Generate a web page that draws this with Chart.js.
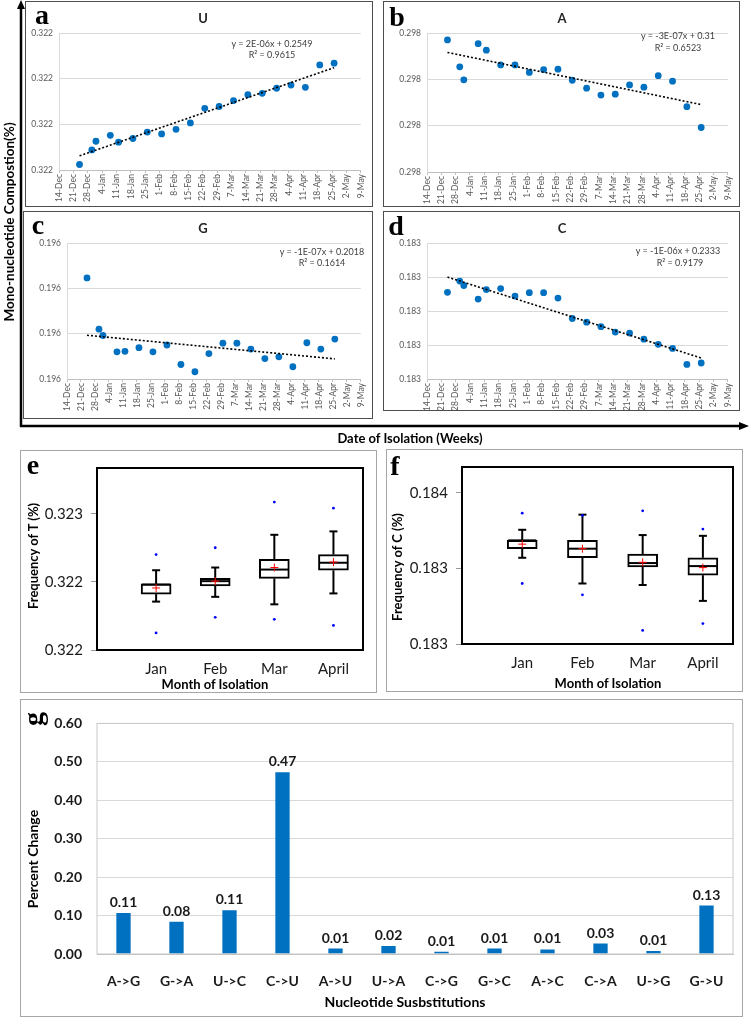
<!DOCTYPE html>
<html>
<head>
<meta charset="utf-8">
<script src="https://cdn.jsdelivr.net/npm/chart.js@4.4.1/dist/chart.umd.min.js"></script>
<style>
  body { margin: 0; background: #fff; width: 749px; height: 1021px; position: relative; overflow: hidden; font-family: Lato, "Open Sans", sans-serif; color: #1a1a1a; }
  .frame { position: absolute; box-sizing: border-box; }
  .dark { border: 1.5px solid #4d4d4d; }
  .light { border: 1.5px solid #a6a6a6; }
  .box { position: absolute; }
  .t { position: absolute; transform: translate(-50%, -50%); white-space: nowrap; line-height: 1; }
  .r { transform: translate(-50%, -50%) rotate(-90deg); }
  .letter { font-family: "Liberation Serif", serif; font-weight: bold; font-size: 28px; color: #000; }
  .ttl { font-weight: bold; font-size: 13px; color: #262626; }
  .eq { font-size: 9px; color: #404040; }
  .ax { font-weight: bold; font-size: 13px; color: #000; }
</style>
</head>
<body>

<svg width="749" height="1021" style="position:absolute;left:0;top:0">
  <line x1="21" y1="427" x2="21" y2="7" stroke="#000" stroke-width="2.5"/>
  <polygon points="21,0 17,9 25,9" fill="#000"/>
  <line x1="20" y1="426" x2="740" y2="426" stroke="#000" stroke-width="2.5"/>
  <polygon points="749,426 739,422 739,430" fill="#000"/>
</svg>

<div class="frame dark" style="left:25px;top:1px;width:348px;height:206px"></div>
<div class="frame dark" style="left:383px;top:1px;width:357px;height:206px"></div>
<div class="frame dark" style="left:23px;top:211px;width:350px;height:208px"></div>
<div class="frame dark" style="left:383px;top:211px;width:357px;height:200px"></div>
<div class="frame light" style="left:20px;top:450px;width:357px;height:243px"></div>
<div class="frame light" style="left:386px;top:449px;width:357px;height:243px"></div>
<div class="frame light" style="left:20px;top:699px;width:723px;height:318px"></div>

<div class="box" style="left:26px;top:2px;width:346px;height:205px"><canvas id="chartU"></canvas></div>
<div class="box" style="left:384px;top:2px;width:355px;height:205px"><canvas id="chartA"></canvas></div>
<div class="box" style="left:24px;top:212px;width:348px;height:206px"><canvas id="chartG"></canvas></div>
<div class="box" style="left:384px;top:212px;width:355px;height:199px"><canvas id="chartC"></canvas></div>
<div class="box" style="left:21px;top:451px;width:355px;height:241px"><canvas id="chartT"></canvas></div>
<div class="box" style="left:387px;top:450px;width:355px;height:241px"><canvas id="chartFreqC"></canvas></div>
<div class="box" style="left:21px;top:700px;width:721px;height:316px"><canvas id="chartSubs"></canvas></div>

<div class="t letter" style="left:42px;top:15px">a</div>
<div class="t letter" style="left:397px;top:17px">b</div>
<div class="t letter" style="left:38px;top:225px">c</div>
<div class="t letter" style="left:396px;top:226px">d</div>
<div class="t letter" style="left:33px;top:465px">e</div>
<div class="t letter" style="left:395px;top:466px">f</div>
<div class="t letter r" style="left:33px;top:719px">g</div>

<div class="t ttl" style="left:203px;top:18px">U</div>
<div class="t ttl" style="left:562px;top:18px">A</div>
<div class="t ttl" style="left:203px;top:228px">G</div>
<div class="t ttl" style="left:562px;top:228px">C</div>

<div class="t eq" style="left:272px;top:43px">y = 2E-06x + 0.2549</div>
<div class="t eq" style="left:272px;top:54px">R² = 0.9615</div>
<div class="t eq" style="left:678px;top:35px">y = -3E-07x + 0.31</div>
<div class="t eq" style="left:678px;top:47px">R² = 0.6523</div>
<div class="t eq" style="left:322px;top:251px">y = -1E-07x + 0.2018</div>
<div class="t eq" style="left:322px;top:262px">R² = 0.1614</div>
<div class="t eq" style="left:678px;top:250px">y = -1E-06x + 0.2333</div>
<div class="t eq" style="left:680px;top:262px">R² = 0.9179</div>

<div class="t ax r" style="left:10px;top:222px;font-size:13.5px">Mono-nucleotide Compostion(%)</div>
<div class="t ax" style="left:410px;top:438px">Date of Isolation (Weeks)</div>
<div class="t ax r" style="left:33px;top:556px">Frequency of T (%)</div>
<div class="t ax" style="left:215px;top:684px">Month of Isolation</div>
<div class="t ax r" style="left:397px;top:567px">Frequency of C (%)</div>
<div class="t ax" style="left:608px;top:683px">Month of Isolation</div>
<div class="t ax r" style="left:33px;top:859px;font-size:14px">Percent Change</div>
<div class="t ax" style="left:405px;top:1002px;font-size:14px">Nucleotide Susbstitutions</div>

<script>
// weekly axis of panels a-d
const startDate = "2019-12-14";
const weekTicks = ["14-Dec", "21-Dec", "28-Dec", "4-Jan", "11-Jan", "18-Jan", "25-Jan", "1-Feb", "8-Feb",
  "15-Feb", "22-Feb", "29-Feb", "7-Mar", "14-Mar", "21-Mar", "28-Mar", "4-Apr", "11-Apr", "18-Apr",
  "25-Apr", "2-May", "9-May"];
const sampleDates = ["2019-12-24", "2019-12-30", "2020-01-01", "2020-01-08", "2020-01-12", "2020-01-19",
  "2020-01-26", "2020-02-02", "2020-02-09", "2020-02-16", "2020-02-23", "2020-03-01", "2020-03-08",
  "2020-03-15", "2020-03-22", "2020-03-29", "2020-04-05", "2020-04-12", "2020-04-19", "2020-04-26"];

// composition, measured in gridline steps above the lowest gridline
const compU = [0.12, 0.44, 0.63, 0.76, 0.61, 0.69, 0.83, 0.79, 0.89, 1.03, 1.35, 1.39, 1.52, 1.65, 1.68, 1.79, 1.86, 1.81, 2.30, 2.34];
const compA = [2.85, 2.27, 1.99, 2.77, 2.63, 2.31, 2.31, 2.15, 2.21, 2.22, 1.98, 1.81, 1.66, 1.68, 1.88, 1.83, 2.08, 1.96, 1.41, 0.96];
const compG = [2.23, 1.10, 0.96, 0.60, 0.61, 0.69, 0.60, 0.75, 0.32, 0.16, 0.56, 0.79, 0.79, 0.66, 0.45, 0.49, 0.27, 0.80, 0.66, 0.88];
const compC = [2.55, 2.88, 2.75, 2.35, 2.63, 2.66, 2.44, 2.54, 2.54, 2.38, 1.78, 1.67, 1.54, 1.38, 1.35, 1.17, 1.02, 0.90, 0.43, 0.47];
const ticksU = ["0.322", "0.322", "0.322", "0.322"];
const ticksA = ["0.298", "0.298", "0.298", "0.298"];
const ticksG = ["0.196", "0.196", "0.196", "0.196"];
const ticksC = ["0.183", "0.183", "0.183", "0.183", "0.183"];

// box plots e/f, same kind of units
const months = ["Jan", "Feb", "Mar", "April"];
const tLow = [0.71, 0.78, 0.67, 0.83];
const tQ1 = [0.82, 0.94, 1.05, 1.17];
const tMedian = [0.96, 1.01, 1.18, 1.28];
const tQ3 = [0.97, 1.05, 1.33, 1.40];
const tHigh = [1.17, 1.21, 1.69, 1.74];
const tMean = [0.91, 1.01, 1.21, 1.29];
const tOutHigh = [1.40, 1.50, 2.17, 2.08];
const tOutLow = [0.25, 0.48, 0.45, 0.36];
const tTicks = ["0.322", "0.322", "0.323"];

const cLow = [1.14, 0.80, 0.78, 0.57];
const cQ1 = [1.26, 1.14, 1.02, 0.91];
const cMedian = [1.37, 1.26, 1.07, 1.03];
const cQ3 = [1.37, 1.37, 1.19, 1.14];
const cHigh = [1.51, 1.71, 1.44, 1.43];
const cMean = [1.32, 1.26, 1.08, 1.01];
const cOutHigh = [1.73, 1.70, 1.76, 1.52];
const cOutLow = [0.80, 0.65, 0.18, 0.27];
const cTicks = ["0.183", "0.183", "0.184"];

// panel g
const substitutions = ["A->G", "G->A", "U->C", "C->U", "A->U", "U->A", "C->G", "G->C", "A->C", "C->A", "U->G", "G->U"];
const percentChange = [0.107, 0.084, 0.114, 0.473, 0.014, 0.021, 0.006, 0.014, 0.012, 0.027, 0.008, 0.126];
const percentTicks = ["0.00", "0.10", "0.20", "0.30", "0.40", "0.50", "0.60"];

Chart.defaults.font.family = "Lato, 'Open Sans', sans-serif";
Chart.defaults.animation = false;
Chart.defaults.plugins.legend.display = false;
Chart.defaults.plugins.tooltip.enabled = false;
Chart.defaults.maintainAspectRatio = false;

const dayOf = s => (Date.parse(s) - Date.parse(startDate)) / 864e5;

const framePlugin = (color, width) => ({
  id: "frame",
  afterDraw(chart) {
    const { ctx, chartArea: a } = chart;
    ctx.save();
    ctx.strokeStyle = color;
    ctx.lineWidth = width;
    ctx.strokeRect(a.left, a.top, a.right - a.left, a.bottom - a.top);
    ctx.restore();
  }
});

function trendChart(id, values, yLabels, axisW, axisH, padRight) {
  const xs = sampleDates.map(dayOf);
  const n = xs.length;
  // least squares, like the excel trendline
  const mx = xs.reduce((a, b) => a + b) / n;
  const my = values.reduce((a, b) => a + b) / n;
  let sxy = 0, sxx = 0;
  xs.forEach((x, i) => { sxy += (x - mx) * (values[i] - my); sxx += (x - mx) ** 2; });
  const slope = sxy / sxx;
  const icpt = my - slope * mx;
  const fit = [xs[0], xs[n - 1]].map(x => ({ x, y: icpt + slope * x }));

  return new Chart(document.getElementById(id), {
    type: "scatter",
    data: {
      datasets: [
        { data: fit, showLine: true, borderColor: "#000", borderWidth: 1.6, borderDash: [2, 2], pointRadius: 0 },
        { data: values.map((v, i) => ({ x: xs[i], y: v })), backgroundColor: "#0070C0", borderWidth: 0, pointRadius: 3.4 },
      ],
    },
    options: {
      layout: { padding: { top: 31, right: padRight, left: 0, bottom: 0 } },
      scales: {
        x: {
          type: "linear",
          min: 0,
          max: (weekTicks.length - 1) * 7,
          afterBuildTicks: s => { s.ticks = weekTicks.map((_, i) => ({ value: i * 7 })); },
          afterFit: s => { s.height = axisH; },
          ticks: { callback: (v, i) => weekTicks[i], minRotation: 90, maxRotation: 90, autoSkip: false, font: { size: 8.5 }, color: "#595959", padding: 1 },
          grid: { drawOnChartArea: false, tickLength: 3, color: "#bfbfbf" },
          border: { color: "#bfbfbf" },
        },
        y: {
          min: 0,
          max: yLabels.length - 1,
          afterBuildTicks: s => { s.ticks = yLabels.map((_, i) => ({ value: i })); },
          afterFit: s => { s.width = axisW; },
          ticks: { callback: (v, i) => yLabels[i], font: { size: 8.5 }, color: "#595959", padding: 6 },
          grid: { color: "#d9d9d9", drawTicks: false },
          border: { color: "#d9d9d9" },
        },
      },
    },
  });
}

trendChart("chartU", compU, ticksU, 33, 37, 2);
trendChart("chartA", compA, ticksA, 43, 35, 9);
trendChart("chartG", compG, ticksG, 43, 39, 2);
trendChart("chartC", compC, ticksC, 43, 32, 9);

function boxChart(id, st, yLabels, yMax, pad, axisW, axisH) {
  const whiskers = {
    id: "whiskers",
    afterDatasetDraw(chart, args) {
      if (args.index !== 2) return;
      const { ctx, scales: { x, y } } = chart;
      const seg = (x1, y1, x2, y2) => { ctx.beginPath(); ctx.moveTo(x1, y1); ctx.lineTo(x2, y2); ctx.stroke(); };
      ctx.save();
      ctx.strokeStyle = "#000";
      ctx.lineWidth = 2;
      months.forEach((_, i) => {
        const px = x.getPixelForValue(i);
        const hi = y.getPixelForValue(st.high[i]);
        const lo = y.getPixelForValue(st.low[i]);
        const md = y.getPixelForValue(st.median[i]);
        seg(px, y.getPixelForValue(st.q3[i]), px, hi);
        seg(px, y.getPixelForValue(st.q1[i]), px, lo);
        seg(px - 4, hi, px + 4, hi);
        seg(px - 4, lo, px + 4, lo);
        seg(px - 14, md, px + 14, md);
      });
      ctx.restore();
    },
  };
  return new Chart(document.getElementById(id), {
    type: "bar",
    data: {
      datasets: [
        { type: "scatter", data: st.mean.map((v, i) => ({ x: i, y: v })), pointStyle: "cross", pointRadius: 4, borderColor: "#ff0000", borderWidth: 1 },
        { type: "scatter", data: months.flatMap((_, i) => [{ x: i, y: st.outHigh[i] }, { x: i, y: st.outLow[i] }]), pointRadius: 1.4, backgroundColor: "#0000ff", borderWidth: 0 },
        { data: months.map((_, i) => ({ x: i, y: [st.q1[i], st.q3[i]] })), backgroundColor: "#fff", borderColor: "#000", borderWidth: 2, borderSkipped: false, barThickness: 30 },
      ],
    },
    options: {
      layout: { padding: { top: pad.top, right: pad.right, left: 0, bottom: 0 } },
      scales: {
        x: {
          type: "linear",
          offset: false,
          min: -1,
          max: 3.5,
          afterBuildTicks: s => { s.ticks = months.map((_, i) => ({ value: i })); },
          afterFit: s => { s.height = axisH; },
          ticks: { callback: (v, i) => months[i], font: { size: 15 }, color: "#1a1a1a", padding: pad.label },
          grid: { display: false },
          border: { display: false },
        },
        y: {
          min: 0,
          max: yMax,
          afterBuildTicks: s => { s.ticks = yLabels.map((_, i) => ({ value: i })); },
          afterFit: s => { s.width = axisW; },
          ticks: { callback: (v, i) => yLabels[i], font: { size: 15 }, color: "#1a1a1a", padding: 8 },
          grid: { drawOnChartArea: false, tickLength: 6, color: "#999" },
          border: { display: false },
        },
      },
    },
    plugins: [whiskers, framePlugin("#000", 2)],
  });
}

boxChart("chartT",
  { low: tLow, q1: tQ1, median: tMedian, q3: tQ3, high: tHigh, mean: tMean, outHigh: tOutHigh, outLow: tOutLow },
  tTicks, 2.67, { top: 9, right: 13, label: 2 }, 76, 42);
boxChart("chartFreqC",
  { low: cLow, q1: cQ1, median: cMedian, q3: cQ3, high: cHigh, mean: cMean, outHigh: cOutHigh, outLow: cOutLow },
  cTicks, 2.34, { top: 10, right: 9, label: 2 }, 75, 47);

const barLabels = {
  id: "barLabels",
  afterDatasetsDraw(chart) {
    const { ctx } = chart;
    ctx.save();
    ctx.font = "bold 14px Lato, 'Open Sans', sans-serif";
    ctx.fillStyle = "#1a1a1a";
    ctx.textAlign = "center";
    ctx.textBaseline = "alphabetic";
    chart.getDatasetMeta(0).data.forEach((bar, i) => {
      ctx.fillText(percentChange[i].toFixed(2), bar.x, bar.y - 6);
    });
    ctx.restore();
  },
};

new Chart(document.getElementById("chartSubs"), {
  type: "bar",
  data: {
    labels: substitutions,
    datasets: [{ data: percentChange, backgroundColor: "#0070C0", barPercentage: 0.27, categoryPercentage: 1 }],
  },
  options: {
    layout: { padding: { top: 13, right: 9, left: 0, bottom: 0 } },
    scales: {
      x: {
        afterFit: s => { s.height = 62; },
        ticks: { font: { size: 14, weight: "bold" }, color: "#1a1a1a", padding: 11 },
        grid: { display: false },
        border: { color: "#bfbfbf" },
      },
      y: {
        min: 0,
        max: 0.6,
        afterBuildTicks: s => { s.ticks = percentTicks.map(t => ({ value: +t })); },
        afterFit: s => { s.width = 76; },
        ticks: { callback: (v, i) => percentTicks[i], font: { size: 14, weight: "bold" }, color: "#1a1a1a", padding: 15 },
        grid: { color: "#d9d9d9", drawTicks: false },
        border: { display: false },
      },
    },
  },
  plugins: [barLabels, framePlugin("#c8c8c8", 1)],
});
</script>
</body>
</html>
